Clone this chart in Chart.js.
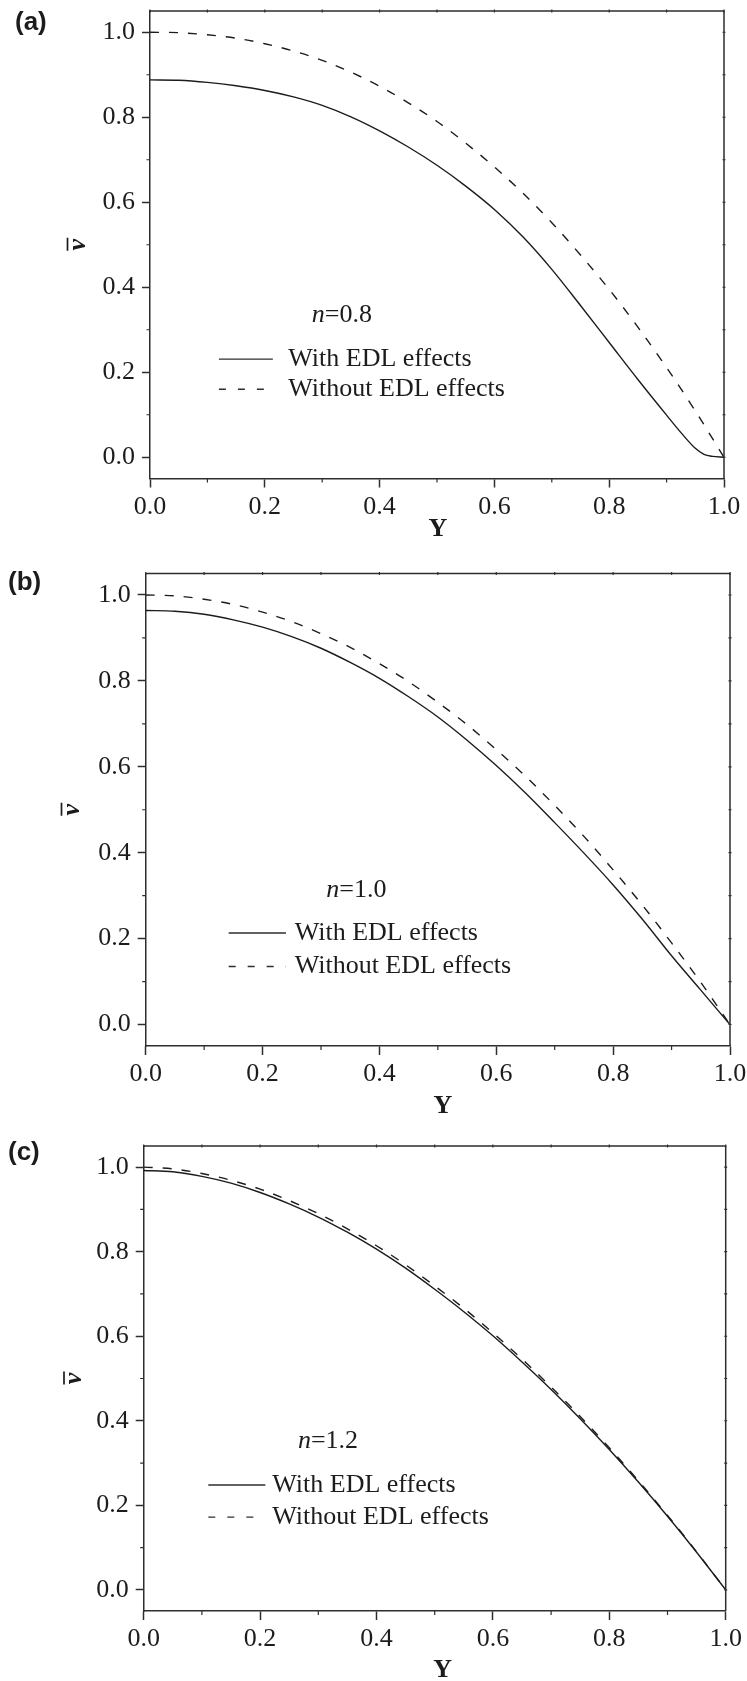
<!DOCTYPE html>
<html>
<head>
<meta charset="utf-8">
<script src="https://cdn.jsdelivr.net/npm/chart.js@4.4.1/dist/chart.umd.min.js"></script>
<style>
  html, body { margin: 0; padding: 0; background: #fff; }
  #fig { position: relative; width: 747px; height: 1681px; }
  #fig canvas { position: absolute; left: 0; }
</style>
</head>
<body>
<div id="fig">
  <canvas id="panel-a" width="747" height="545" style="top:0px"></canvas>
  <canvas id="panel-b" width="747" height="575" style="top:545px"></canvas>
  <canvas id="panel-c" width="747" height="561" style="top:1120px"></canvas>
</div>
<script>
/* valores */
const yPos = [0, 0.05, 0.1, 0.15, 0.2, 0.25, 0.3, 0.35, 0.4, 0.45, 0.5, 0.55, 0.6, 0.65, 0.7, 0.75, 0.8, 0.85, 0.9, 0.95, 1.0];
const yPosEdlA = [0, 0.05, 0.1, 0.15, 0.2, 0.25, 0.3, 0.35, 0.4, 0.45, 0.5, 0.55, 0.6, 0.65, 0.7, 0.75, 0.8, 0.85, 0.9, 0.925, 0.95, 0.965, 0.98, 1.0];

// (a) n = 0.8
const withEdlA = [0.888, 0.887, 0.882, 0.874, 0.863, 0.848, 0.828, 0.801, 0.768, 0.730, 0.687, 0.638, 0.583, 0.518, 0.442, 0.357, 0.270, 0.183, 0.099, 0.058, 0.021, 0.007, 0.002, 0.000];
const withoutEdlA = [1.000, 0.999, 0.994, 0.986, 0.973, 0.956, 0.934, 0.906, 0.873, 0.834, 0.790, 0.739, 0.683, 0.621, 0.552, 0.476, 0.395, 0.306, 0.211, 0.109, 0.000];
// (b) n = 1.0
const withEdlB = [0.964, 0.962, 0.955, 0.942, 0.925, 0.903, 0.876, 0.843, 0.806, 0.763, 0.716, 0.662, 0.603, 0.539, 0.470, 0.399, 0.325, 0.245, 0.160, 0.080, 0.000];
const withoutEdlB = [1.000, 0.998, 0.990, 0.978, 0.960, 0.938, 0.910, 0.878, 0.840, 0.798, 0.750, 0.698, 0.640, 0.578, 0.510, 0.438, 0.360, 0.278, 0.190, 0.098, 0.000];
// (c) n = 1.2
const withEdlC = [0.992, 0.989, 0.978, 0.962, 0.940, 0.913, 0.882, 0.846, 0.806, 0.761, 0.711, 0.658, 0.601, 0.539, 0.474, 0.405, 0.332, 0.255, 0.174, 0.089, 0.000];
const withoutEdlC = [1.000, 0.996, 0.985, 0.969, 0.948, 0.921, 0.890, 0.854, 0.814, 0.769, 0.719, 0.666, 0.608, 0.546, 0.480, 0.410, 0.336, 0.258, 0.176, 0.090, 0.000];

const majorTicks = [0, 0.2, 0.4, 0.6, 0.8, 1.0];
const tickLabels = ['0.0', '0.2', '0.4', '0.6', '0.8', '1.0'];
const minorTicks = [0.1, 0.3, 0.5, 0.7, 0.9];
const allTicks = [0, 0.1, 0.2, 0.3, 0.4, 0.5, 0.6, 0.7, 0.8, 0.9, 1.0];
const seriesNames = ['With EDL effects', 'Without EDL effects'];
const nValues = ['0.8', '1.0', '1.2'];
const panelLabels = ['(a)', '(b)', '(c)'];

const INK = '#1c1c1c';
const AXIS = '#2e2e2e';
const SERIF = "'Liberation Serif', 'Times New Roman', serif";

function puntos(xs, ys) {
    return xs.map((x, i) => ({ x: x, y: ys[i] }));
}

/* dibuja marco, ticks menores, textos y leyenda */
const decoracion = {
    id: 'decoracion',
    afterDraw(chart, args, o) {
        const ctx = chart.ctx;
        const a = chart.chartArea;
        const sx = chart.scales.x, sy = chart.scales.y;
        ctx.save();
        ctx.strokeStyle = AXIS;
        ctx.lineWidth = 1.5;
        ctx.beginPath();
        ctx.moveTo(a.left, a.top);
        ctx.lineTo(a.right, a.top);
        ctx.lineTo(a.right, a.bottom);
        ctx.stroke();

        // ticks menores
        ctx.lineWidth = 1.2;
        ctx.beginPath();
        minorTicks.forEach(v => {
            const py = sy.getPixelForValue(v);
            ctx.moveTo(a.left - 3.5, py); ctx.lineTo(a.left, py);
            const px = sx.getPixelForValue(v);
            ctx.moveTo(px, a.bottom); ctx.lineTo(px, a.bottom + 4);
        });
        allTicks.forEach(v => {
            const py = sy.getPixelForValue(v);
            ctx.moveTo(a.right - 1.5, py); ctx.lineTo(a.right + 1.5, py);
            const px = sx.getPixelForValue(v);
            ctx.moveTo(px, a.top - 1.5); ctx.lineTo(px, a.top + 1.5);
        });
        ctx.stroke();

        ctx.fillStyle = INK;
        // etiqueta del panel
        ctx.font = "bold 26px 'Liberation Sans', Arial, sans-serif";
        ctx.textAlign = 'left';
        ctx.textBaseline = 'middle';
        ctx.fillText(o.panel, o.panelX, o.panelY);

        // titulo eje x
        ctx.font = 'bold 26px ' + SERIF;
        ctx.textAlign = 'center';
        ctx.fillText('Y', (a.left + a.right) / 2 + o.titleDx, a.bottom + o.titleDy);

        // titulo eje y: v con barra, girado
        ctx.save();
        ctx.translate(o.vX, (a.top + a.bottom) / 2);
        ctx.rotate(-Math.PI / 2);
        ctx.font = 'bold italic 26px ' + SERIF;
        ctx.textBaseline = 'alphabetic';
        ctx.fillText('v', 0, 0);
        ctx.lineWidth = 1.7;
        ctx.strokeStyle = INK;
        ctx.beginPath();
        ctx.moveTo(-6, -17); ctx.lineTo(7, -17);
        ctx.stroke();
        ctx.restore();

        // n = ...
        ctx.textAlign = 'left';
        ctx.textBaseline = 'middle';
        let px = sx.getPixelForValue(o.nPos[0]);
        const py = sy.getPixelForValue(o.nPos[1]);
        ctx.font = 'italic 26px ' + SERIF;
        ctx.fillText('n', px, py);
        px += ctx.measureText('n').width;
        ctx.font = '26px ' + SERIF;
        ctx.fillText('=' + o.n, px, py);

        // leyenda
        const dashes = [[], [7, 12]];
        seriesNames.forEach((name, i) => {
            const ly = sy.getPixelForValue(o.legendY[i]);
            ctx.setLineDash(dashes[i]);
            ctx.lineWidth = 1.4;
            ctx.beginPath();
            ctx.moveTo(sx.getPixelForValue(o.sample[0]), ly);
            ctx.lineTo(sx.getPixelForValue(o.sample[1]), ly);
            ctx.stroke();
            ctx.setLineDash([]);
            ctx.fillText(name, sx.getPixelForValue(o.textX), ly);
        });
        ctx.restore();
    }
};

function crearPanel(id, solidX, solidY, dashY, area, deco) {
    const cv = document.getElementById(id);
    return new Chart(cv.getContext('2d'), {
        type: 'line',
        data: {
            datasets: [{
                label: seriesNames[0],
                data: puntos(solidX, solidY),
                borderColor: INK,
                borderWidth: 1.4,
                pointRadius: 0,
                cubicInterpolationMode: 'monotone',
                fill: false
            }, {
                label: seriesNames[1],
                data: puntos(yPos, dashY),
                borderColor: INK,
                borderWidth: 1.4,
                borderDash: [9, 10],
                pointRadius: 0,
                cubicInterpolationMode: 'monotone',
                fill: false
            }]
        },
        options: {
            responsive: false,
            animation: false,
            events: [],
            layout: {
                autoPadding: false,
                padding: { left: 0, right: area.right, top: area.top, bottom: area.bottom }
            },
            scales: {
                x: {
                    type: 'linear',
                    min: 0,
                    max: 1,
                    afterBuildTicks: s => { s.ticks = majorTicks.map(v => ({ value: v })); },
                    afterFit: s => { s.height = 45; s.paddingLeft = 0; s.paddingRight = 0; },
                    ticks: {
                        callback: (v, i) => tickLabels[i],
                        font: { family: SERIF, size: 26 },
                        color: INK,
                        padding: 4,
                        maxRotation: 0,
                        autoSkip: false
                    },
                    grid: { drawOnChartArea: false, tickLength: 9, tickWidth: 1.5, tickColor: AXIS },
                    border: { color: AXIS, width: 1.5 }
                },
                y: {
                    min: -0.05,
                    max: 1.05,
                    afterBuildTicks: s => { s.ticks = majorTicks.map(v => ({ value: v })); },
                    afterFit: s => { s.width = area.left; s.paddingTop = 0; s.paddingBottom = 0; },
                    ticks: {
                        callback: (v, i) => tickLabels[i],
                        font: { family: SERIF, size: 26 },
                        color: INK,
                        padding: 7
                    },
                    grid: { drawOnChartArea: false, tickLength: 8, tickWidth: 1.5, tickColor: AXIS },
                    border: { color: AXIS, width: 1.5 }
                }
            },
            plugins: {
                legend: { display: false },
                tooltip: { enabled: false },
                decoracion: deco
            }
        },
        plugins: [decoracion]
    });
}

crearPanel('panel-a', yPosEdlA, withEdlA, withoutEdlA,
    { left: 150, right: 23, top: 11, bottom: 21.5 },
    { panel: panelLabels[0], panelX: 15, panelY: 23, n: nValues[0], nPos: [0.282, 0.334],
      legendY: [0.231, 0.160], sample: [0.120, 0.214], textX: 0.241,
      titleDx: 1, titleDy: 50.5, vX: 84.5 });

crearPanel('panel-b', yPos, withEdlB, withoutEdlB,
    { left: 145.7, right: 17, top: 28.5, bottom: 29 },
    { panel: panelLabels[1], panelX: 8, panelY: 37.5, n: nValues[1], nPos: [0.309, 0.312],
      legendY: [0.213, 0.135], sample: [0.142, 0.240], textX: 0.255,
      titleDx: 5, titleDy: 60.6, vX: 78.5 });

crearPanel('panel-c', yPos, withEdlC, withoutEdlC,
    { left: 143.7, right: 21.3, top: 26, bottom: 25 },
    { panel: panelLabels[2], panelX: 8, panelY: 32.5, n: nValues[2], nPos: [0.265, 0.352],
      legendY: [0.248, 0.172], sample: [0.111, 0.209], textX: 0.221,
      titleDx: 8, titleDy: 59, vX: 81 });
</script>
</body>
</html>
